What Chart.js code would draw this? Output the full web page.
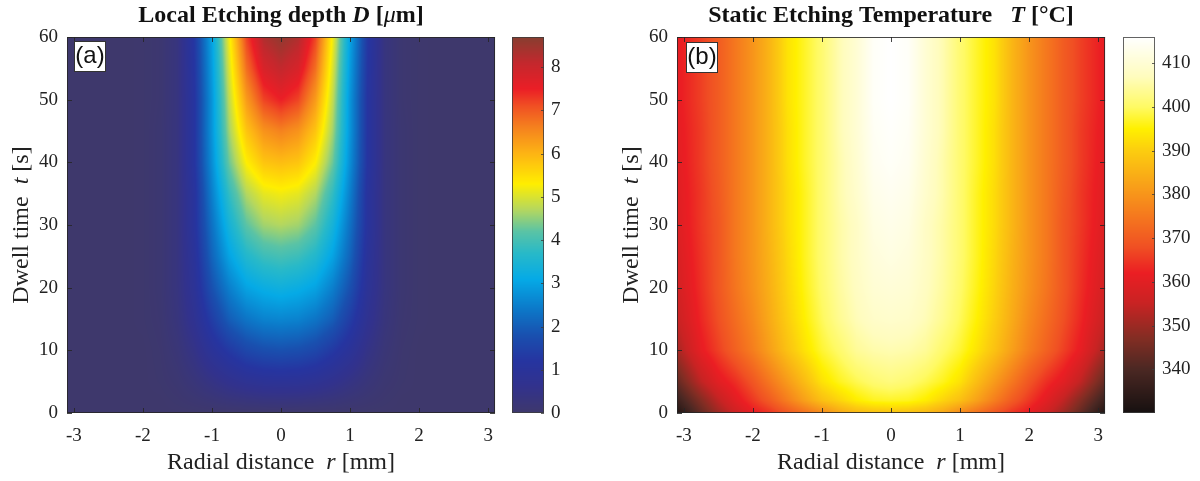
<!DOCTYPE html>
<html>
<head>
<meta charset="utf-8">
<script src="https://cdn.jsdelivr.net/npm/chart.js@4.4.0/dist/chart.umd.min.js"></script>
<style>
  body { margin: 0; background: #fff; width: 1200px; height: 481px; position: relative; overflow: hidden; }
  canvas { position: absolute; top: 0; }
</style>
</head>
<body>
<canvas id="mapA" width="505" height="481" style="left:0px"></canvas>
<canvas id="barA" width="95" height="481" style="left:505px"></canvas>
<canvas id="mapB" width="515" height="481" style="left:600px"></canvas>
<canvas id="barB" width="85" height="481" style="left:1115px"></canvas>
<script>
// grid: radial distance r [mm] (columns) and dwell time t [s] (rows)
const rGrid = [-3.1, -2.75, -2.5, -2.25, -2, -1.75, -1.5, -1.25, -1, -0.75, -0.5, -0.25, 0,
               0.25, 0.5, 0.75, 1, 1.25, 1.5, 1.75, 2, 2.25, 2.5, 2.75, 3.1];
const tGrid = [0, 2, 5, 10, 15, 20, 25, 30, 35, 40, 45, 50, 55, 60];

// (a) local etching depth D [um], one row per tGrid entry
const depthD = [
  [0,0,0,0,0,0,0,0,0,0,0,0,0,0,0,0,0,0,0,0,0,0,0,0,0],
  [0,0,0,0,0,0,0.04,0.1,0.17,0.25,0.3,0.34,0.35,0.34,0.3,0.25,0.17,0.1,0.04,0,0,0,0,0,0],
  [0,0,0,0,0,0.03,0.1,0.25,0.45,0.65,0.8,0.88,0.9,0.88,0.8,0.65,0.45,0.25,0.1,0.03,0,0,0,0,0],
  [0,0,0,0,0,0.05,0.2,0.5,0.95,1.3,1.6,1.75,1.8,1.75,1.6,1.3,0.95,0.5,0.2,0.05,0,0,0,0,0],
  [0,0,0,0,0.02,0.08,0.3,0.75,1.4,2.0,2.35,2.55,2.6,2.55,2.35,2.0,1.4,0.75,0.3,0.08,0.02,0,0,0,0],
  [0,0,0,0,0.02,0.1,0.35,0.9,1.8,2.5,3.0,3.2,3.3,3.2,3.0,2.5,1.8,0.9,0.35,0.1,0.02,0,0,0,0],
  [0,0,0,0,0.02,0.1,0.35,1.0,2.1,3.0,3.6,3.9,4.0,3.9,3.6,3.0,2.1,1.0,0.35,0.1,0.02,0,0,0,0],
  [0,0,0,0,0.02,0.1,0.35,1.1,2.3,3.4,4.2,4.6,4.7,4.6,4.2,3.4,2.3,1.1,0.35,0.1,0.02,0,0,0,0],
  [0,0,0,0,0.02,0.1,0.35,1.1,2.5,3.8,4.7,5.1,5.2,5.1,4.7,3.8,2.5,1.1,0.35,0.1,0.02,0,0,0,0],
  [0,0,0,0,0.02,0.1,0.35,1.2,2.7,4.3,5.3,5.8,5.9,5.8,5.3,4.3,2.7,1.2,0.35,0.1,0.02,0,0,0,0],
  [0,0,0,0,0.02,0.1,0.35,1.2,2.8,4.6,5.8,6.4,6.6,6.4,5.8,4.6,2.8,1.2,0.35,0.1,0.02,0,0,0,0],
  [0,0,0,0,0.02,0.08,0.35,1.2,2.8,4.8,6.3,7.2,7.5,7.2,6.3,4.8,2.8,1.2,0.35,0.08,0.02,0,0,0,0],
  [0,0,0,0,0.02,0.08,0.35,1.25,2.9,5.0,6.8,7.8,8.1,7.8,6.8,5.0,2.9,1.25,0.35,0.08,0.02,0,0,0,0],
  [0,0,0,0,0.02,0.08,0.35,1.3,3.0,5.2,7.2,8.3,8.6,8.3,7.2,5.2,3.0,1.3,0.35,0.08,0.02,0,0,0,0]
];

// (b) static etching temperature T [degC], one row per tGrid entry
const tempT = [
  [332,343,350,356,361,364.5,369,373.5,378,383,386,387.5,388,387.5,386,383,378,373.5,369,364.5,361,356,350,343,332],
  [337,347,354,360,365,370,376,382,387.5,391,394.5,396.5,397,396.5,394.5,391,387.5,382,376,370,365,360,354,347,337],
  [343,354,360,364,369,375,381,387,393,396.5,399,401,402,401,399,396.5,393,387,381,375,369,364,360,354,343],
  [351,361,366,371,376,382,388,393,397.5,400.5,404,405.5,406,405.5,404,400.5,397.5,393,388,382,376,371,366,361,351],
  [355,363,368,373,378,384,390,395,399.5,403.5,406.5,408.5,409,408.5,406.5,403.5,399.5,395,390,384,378,373,368,363,355],
  [357,364,369,374.5,379.5,385,391,396,400.5,404.5,407.5,410,410.5,410,407.5,404.5,400.5,396,391,385,379.5,374.5,369,364,357],
  [358,364.5,369,375,380,385.5,391.5,396.5,401,405,408,411,412,411,408,405,401,396.5,391.5,385.5,380,375,369,364.5,358],
  [359,365,369,375,380,386,392,396.5,401,405,408,412,413,412,408,405,401,396.5,392,386,380,375,369,365,359],
  [359.5,365,369.5,375,380,386,392,396.5,401,405.5,409,413,414,413,409,405.5,401,396.5,392,386,380,375,369.5,365,359.5],
  [360,365.5,370,375,380,386,392.5,397,401,405.5,409.5,414,415,414,409.5,405.5,401,397,392.5,386,380,375,370,365.5,360],
  [360.5,365.5,370,375,380,386,392.5,397,401,406,410,414.5,415.5,414.5,410,406,401,397,392.5,386,380,375,370,365.5,360.5],
  [361,366,370,375,380,386,393,397,401,406,410,415,416,415,410,406,401,397,393,386,380,375,370,366,361],
  [361,366,370,375,380,386,393,397,401,406,410,415,416,415,410,406,401,397,393,386,380,375,370,366,361],
  [361,366,370,375,380,386,393,397,401,406,410,415,416,415,410,406,401,397,393,386,380,375,370,366,361]
];

// tick labels
const rTicks = [-3, -2, -1, 0, 1, 2, 3];
const tTicks = [0, 10, 20, 30, 40, 50, 60];
const depthTicks = [0, 1, 2, 3, 4, 5, 6, 7, 8];
const tempTicks = [340, 350, 360, 370, 380, 390, 400, 410];

// colour maps (value stops -> rgb)
const mapAStops = [0, 0.6, 1.2, 1.8, 2.4, 3.1, 3.7, 4.2, 4.7, 5.3, 6.0, 6.6, 7.1, 7.5, 8.1, 8.7];
const mapAColors = [[62,56,108],[50,50,140],[38,52,160],[25,80,175],[12,120,200],[5,170,230],
  [40,185,200],[90,195,165],[180,215,95],[255,238,0],[253,180,20],[245,130,30],[240,80,35],
  [235,30,38],[195,40,45],[135,62,48]];
const mapBStops = [330, 340, 347, 355, 362, 368, 375, 382, 390, 395, 400, 407, 416];
const mapBColors = [[22,16,16],[75,40,35],[130,45,35],[200,35,35],[235,30,35],[240,80,35],
  [245,120,30],[248,160,25],[252,205,15],[255,240,0],[255,250,100],[255,252,190],[255,255,255]];

const SERIF = '"Liberation Serif", "Times New Roman", serif';
const tickFont = { family: SERIF, size: 19 };
const textColor = '#222';

function colorAt(stops, cols, v) {
  if (v <= stops[0]) return cols[0];
  for (let k = 1; k < stops.length; k++) {
    if (v <= stops[k]) {
      const f = (v - stops[k - 1]) / (stops[k] - stops[k - 1]);
      const a = cols[k - 1], b = cols[k];
      return [a[0] + (b[0] - a[0]) * f, a[1] + (b[1] - a[1]) * f, a[2] + (b[2] - a[2]) * f];
    }
  }
  return cols[cols.length - 1];
}

function locate(grid, v) {
  const n = grid.length - 1;
  if (v <= grid[0]) return [0, 0];
  if (v >= grid[n]) return [n - 1, 1];
  let i = 0;
  while (grid[i + 1] < v) i++;
  return [i, (v - grid[i]) / (grid[i + 1] - grid[i])];
}

function drawRich(ctx, parts, x, y, angle) {
  ctx.save();
  ctx.translate(x, y);
  ctx.rotate(angle || 0);
  ctx.textBaseline = 'middle';
  ctx.textAlign = 'left';
  let total = 0;
  const widths = parts.map(p => { ctx.font = p.font; const w = ctx.measureText(p.text).width; total += w; return w; });
  let cx = -total / 2;
  parts.forEach((p, i) => { ctx.font = p.font; ctx.fillStyle = p.color || textColor; ctx.fillText(p.text, cx, 0); cx += widths[i]; });
  ctx.restore();
}

function makeHeatPlugin(values, stops, cols, cfg) {
  return {
    id: 'heatmap',
    beforeDatasetsDraw(chart) {
      const { ctx, chartArea: a, scales: { x, y } } = chart;
      const left = Math.round(a.left), top = Math.round(a.top);
      const w = Math.round(a.right) - left, h = Math.round(a.bottom) - top;
      const img = ctx.createImageData(w, h);
      const colLoc = [];
      for (let i = 0; i < w; i++) colLoc.push(locate(rGrid, x.getValueForPixel(left + i + 0.5)));
      for (let j = 0; j < h; j++) {
        const [ti, tf] = locate(tGrid, y.getValueForPixel(top + j + 0.5));
        const r0 = values[ti], r1 = values[ti + 1];
        for (let i = 0; i < w; i++) {
          const [ri, rf] = colLoc[i];
          const v0 = r0[ri] + (r0[ri + 1] - r0[ri]) * rf;
          const v1 = r1[ri] + (r1[ri + 1] - r1[ri]) * rf;
          const c = colorAt(stops, cols, v0 + (v1 - v0) * tf);
          const o = (j * w + i) * 4;
          img.data[o] = c[0]; img.data[o + 1] = c[1]; img.data[o + 2] = c[2]; img.data[o + 3] = 255;
        }
      }
      ctx.putImageData(img, left, top);
    },
    afterDraw(chart) {
      const { ctx, chartArea: a, scales: { x, y } } = chart;
      ctx.save();
      ctx.strokeStyle = 'rgba(38,38,38,0.85)';
      ctx.lineWidth = 1;
      ctx.beginPath();
      rTicks.forEach(v => {
        const px = Math.round(x.getPixelForValue(v)) + 0.5;
        ctx.moveTo(px, a.bottom); ctx.lineTo(px, a.bottom - 5);
        ctx.moveTo(px, a.top); ctx.lineTo(px, a.top + 5);
      });
      tTicks.forEach(v => {
        const py = Math.round(y.getPixelForValue(v)) + 0.5;
        ctx.moveTo(a.left, py); ctx.lineTo(a.left + 5, py);
        ctx.moveTo(a.right, py); ctx.lineTo(a.right - 5, py);
      });
      ctx.stroke();
      ctx.strokeRect(a.left + 0.5, a.top + 0.5, a.right - a.left - 1, a.bottom - a.top - 1);

      // panel letter
      const bx = a.left + cfg.boxDx, by = a.top + cfg.boxDy;
      ctx.fillStyle = '#fff';
      ctx.fillRect(bx, by, 32, 31);
      ctx.strokeStyle = '#333';
      ctx.strokeRect(bx + 0.5, by + 0.5, 31, 30);
      ctx.fillStyle = '#111';
      ctx.font = '24px "Liberation Sans", Arial, sans-serif';
      ctx.textAlign = 'center';
      ctx.textBaseline = 'middle';
      ctx.fillText(cfg.letter, bx + 16, by + 15.5);
      ctx.restore();

      const cxm = (a.left + a.right) / 2;
      drawRich(ctx, cfg.title, cxm, 16, 0);
      const f = '24px ' + SERIF, fi = 'italic 24px ' + SERIF;
      drawRich(ctx, [{ text: 'Radial distance  ', font: f }, { text: 'r', font: fi }, { text: ' [mm]', font: f }], cxm, 463, 0);
      drawRich(ctx, [{ text: 'Dwell time  ', font: f }, { text: 't', font: fi }, { text: ' [s]', font: f }], cfg.yTitleX, (a.top + a.bottom) / 2, -Math.PI / 2);
    }
  };
}

function heatChart(id, values, stops, cols, axisWidth, padRight, cfg) {
  return new Chart(document.getElementById(id), {
    type: 'scatter',
    data: { datasets: [{ label: cfg.label, data: [], pointRadius: 0 }] },
    options: {
      responsive: false, animation: false, events: [],
      layout: { padding: { top: 37, right: padRight, left: 0, bottom: 0 } },
      plugins: { legend: { display: false }, tooltip: { enabled: false } },
      scales: {
        x: {
          type: 'linear', min: -3.1, max: 3.1,
          grid: { display: false, drawTicks: false }, border: { display: false },
          afterBuildTicks: s => { s.ticks = rTicks.map(v => ({ value: v })); },
          afterFit: s => { s.height = 68; },
          ticks: { font: tickFont, color: textColor, padding: 12, maxRotation: 0 }
        },
        y: {
          type: 'linear', min: 0, max: 60,
          grid: { display: false, drawTicks: false }, border: { display: false },
          afterBuildTicks: s => { s.ticks = tTicks.map(v => ({ value: v })); },
          afterFit: s => { s.width = axisWidth; },
          ticks: { font: tickFont, color: textColor, padding: 9 }
        }
      }
    },
    plugins: [makeHeatPlugin(values, stops, cols, cfg)]
  });
}

function makeBarPlugin(stops, cols, ticks) {
  return {
    id: 'colorbar',
    beforeDatasetsDraw(chart) {
      const { ctx, chartArea: a, scales: { y } } = chart;
      for (let py = Math.round(a.top); py < Math.round(a.bottom); py++) {
        const c = colorAt(stops, cols, y.getValueForPixel(py + 0.5));
        ctx.fillStyle = 'rgb(' + c.map(Math.round).join(',') + ')';
        ctx.fillRect(a.left, py, a.right - a.left, 1);
      }
      ctx.save();
      ctx.strokeStyle = 'rgba(60,60,60,0.8)';
      ctx.lineWidth = 1;
      ctx.strokeRect(a.left + 0.5, a.top + 0.5, a.right - a.left - 1, a.bottom - a.top - 1);
      ctx.beginPath();
      ticks.forEach(v => {
        const py = Math.round(y.getPixelForValue(v)) + 0.5;
        ctx.moveTo(a.right, py); ctx.lineTo(a.right - 3, py);
      });
      ctx.stroke();
      ctx.restore();
    }
  };
}

function barChart(id, stops, cols, ticks, min, max, padLeft, axisWidth) {
  return new Chart(document.getElementById(id), {
    type: 'scatter',
    data: { datasets: [{ data: [], pointRadius: 0 }] },
    options: {
      responsive: false, animation: false, events: [],
      layout: { padding: { top: 37, left: padLeft, right: 0, bottom: 68 } },
      plugins: { legend: { display: false }, tooltip: { enabled: false } },
      scales: {
        x: { display: false, min: 0, max: 1 },
        y: {
          type: 'linear', position: 'right', min: min, max: max,
          grid: { display: false, drawTicks: false }, border: { display: false },
          afterBuildTicks: s => { s.ticks = ticks.map(v => ({ value: v })); },
          afterFit: s => { s.width = axisWidth; },
          ticks: { font: tickFont, color: textColor, padding: 7 }
        }
      }
    },
    plugins: [makeBarPlugin(stops, cols, ticks)]
  });
}

const bold = 'bold 24px ' + SERIF, boldIt = 'italic bold 24px ' + SERIF, it = 'italic 24px ' + SERIF;

heatChart('mapA', depthD, mapAStops, mapAColors, 67, 7, {
  label: 'Local Etching depth D', letter: '(a)', boxDx: 7, boxDy: 4, yTitleX: 22,
  title: [{ text: 'Local Etching depth ', font: bold, color: '#111' }, { text: 'D', font: boldIt, color: '#111' },
          { text: ' [', font: bold, color: '#111' }, { text: '\u03bc', font: it, color: '#111' }, { text: 'm]', font: bold, color: '#111' }]
});
barChart('barA', mapAStops, mapAColors, depthTicks, 0, 8.7, 7, 56);

heatChart('mapB', tempT, mapBStops, mapBColors, 77, 5, {
  label: 'Static Etching Temperature T', letter: '(b)', boxDx: 9, boxDy: 5, yTitleX: 32,
  title: [{ text: 'Static Etching Temperature   ', font: bold, color: '#111' }, { text: 'T', font: boldIt, color: '#111' },
          { text: ' [\u00b0C]', font: bold, color: '#111' }]
});
barChart('barB', mapBStops, mapBColors, tempTicks, 330, 416, 8, 45);
</script>
</body>
</html>
